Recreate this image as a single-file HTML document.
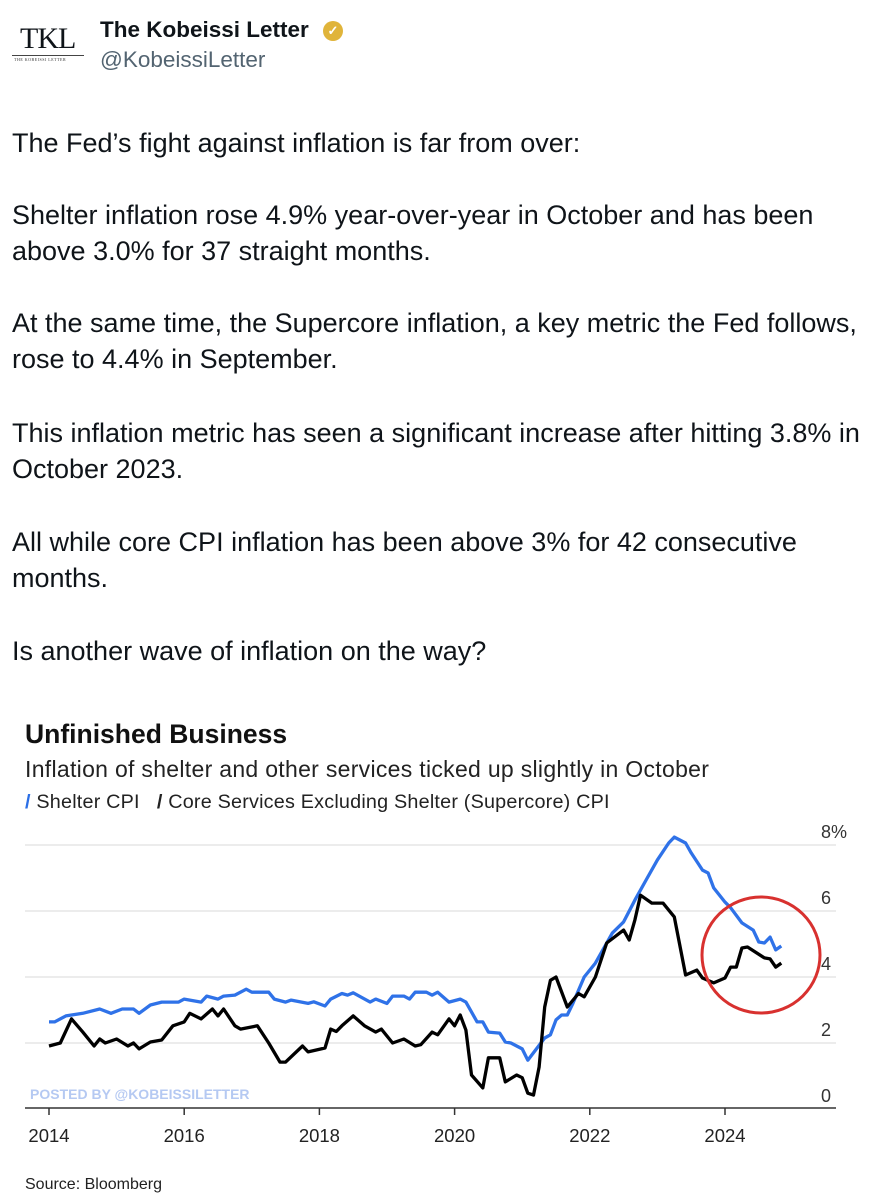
<!DOCTYPE html>
<html><head><meta charset="utf-8">
<style>
body{margin:0;width:887px;height:1200px;background:#fff;position:relative;overflow:hidden;font-family:"Liberation Sans",Arial,sans-serif;color:#0f1419}
.t{position:absolute;left:12px;font-size:27px;white-space:nowrap;line-height:30px}
</style></head><body>
<div style="position:absolute;left:12px;top:24px;width:74px;height:40px">
<div style="font-family:'Liberation Serif',serif;font-size:30px;letter-spacing:-1px;position:absolute;left:8px;top:0;line-height:30px">TKL</div>
<div style="position:absolute;left:0;top:31px;width:72px;border-top:1px solid #444"></div>
<div style="position:absolute;left:2px;top:33px;font-family:'Liberation Serif',serif;font-size:4px;letter-spacing:0.5px;color:#333">THE KOBEISSI LETTER</div>
</div>
<div style="position:absolute;left:100px;top:17px;font-size:22.5px;font-weight:bold">The Kobeissi Letter</div>
<div style="position:absolute;left:323px;top:21px;width:20px;height:20px;border-radius:50%;background:#e0b43a;color:#fff;font-size:13px;text-align:center;line-height:20px;font-weight:bold">✓</div>
<div style="position:absolute;left:100px;top:47px;font-size:22.5px;color:#536471">@KobeissiLetter</div>

<div>
<div class="t" style="top:128px">The Fed’s fight against inflation is far from over:</div>
<div class="t" style="top:200px">Shelter inflation rose 4.9% year-over-year in October and has been</div>
<div class="t" style="top:236px">above 3.0% for 37 straight months.</div>
<div class="t" style="top:308px">At the same time, the Supercore inflation, a key metric the Fed follows,</div>
<div class="t" style="top:344px">rose to 4.4% in September.</div>
<div class="t" style="top:418px">This inflation metric has seen a significant increase after hitting 3.8% in</div>
<div class="t" style="top:454px">October 2023.</div>
<div class="t" style="top:527px">All while core CPI inflation has been above 3% for 42 consecutive</div>
<div class="t" style="top:563px">months.</div>
<div class="t" style="top:636px">Is another wave of inflation on the way?</div>
</div>

<div style="position:absolute;left:25px;top:719px;font-size:26.5px;font-weight:bold;color:#111">Unfinished Business</div>
<div style="position:absolute;left:25px;top:756px;font-size:23px;letter-spacing:0.3px;color:#222">Inflation of shelter and other services ticked up slightly in October</div>
<div style="position:absolute;left:25px;top:791px;font-size:19.8px;letter-spacing:0.2px;color:#222;white-space:nowrap">
<span><span style="color:#2b6fe6;font-weight:bold">/</span> Shelter CPI</span>&nbsp;&nbsp;
<span><span style="font-weight:bold">/</span> Core Services Excluding Shelter (Supercore) CPI</span></div>

<svg id="chart" width="887" height="1200" style="position:absolute;left:0;top:0"></svg>

<div style="position:absolute;left:25px;top:1176px;font-size:16px;color:#222">Source: Bloomberg</div>

<script>
const shelterMonths=[0,1,3,6,9,11,13,15,16,18,20,23,24,27,28,30,31,33,35,36,39,40,42,43,46,47,49,50,52,53,54,57,58,60,61,63,64,65,67,68,69,71,73,74,76,77,78,80,81,82,84,85,88,89,90,91,92,93,95,97,99,100,102,104,106,108,110,111,113,114,116,117,118,120,121,123,125,126,127,128,129,130];
const shelterValues=[2.64,2.64,2.82,2.9,3.03,2.9,3.03,3.03,2.9,3.15,3.24,3.24,3.33,3.24,3.42,3.33,3.42,3.45,3.63,3.54,3.54,3.33,3.24,3.3,3.2,3.25,3.12,3.33,3.5,3.45,3.52,3.24,3.33,3.2,3.42,3.42,3.33,3.54,3.54,3.45,3.54,3.24,3.33,3.24,2.64,2.64,2.33,2.3,2.03,2.0,1.82,1.48,2.15,2.25,2.7,2.85,2.85,3.2,4.0,4.42,5.03,5.33,5.67,6.33,6.94,7.55,8.06,8.24,8.06,7.76,7.24,7.15,6.7,6.27,6.1,5.64,5.42,5.06,5.03,5.21,4.82,4.94];
const supercoreMonths=[0,2,4,6,8,9,10,12,14,15,16,18,20,22,24,25,27,29,30,31,33,34,37,39,41,42,45,46,49,50,51,52,54,56,58,59,61,63,65,66,68,69,71,72,73,74,75,77,78,80,81,83,84,85,86,87,88,89,90,92,94,95,97,99,102,103,104,105,107,109,111,113,115,116,118,120,121,122,123,124,127,128,129,130];
const supercoreValues=[1.91,2.0,2.73,2.33,1.91,2.12,2.0,2.12,1.91,2.0,1.82,2.03,2.09,2.52,2.64,2.9,2.73,3.03,2.82,3.03,2.52,2.42,2.52,2.0,1.42,1.42,1.91,1.73,1.85,2.42,2.35,2.52,2.82,2.52,2.33,2.42,2.0,2.12,1.91,1.95,2.33,2.25,2.73,2.52,2.85,2.39,1.03,0.64,1.55,1.55,0.82,1.03,0.95,0.48,0.42,1.27,3.09,3.9,4.0,3.09,3.5,3.4,4.0,5.03,5.42,5.12,5.73,6.48,6.24,6.24,5.82,4.06,4.21,3.97,3.82,3.97,4.3,4.3,4.88,4.91,4.58,4.55,4.3,4.42];
const yTicks=[0,2,4,6,8];
const yTickLabels=["0","2","4","6","8%"];
const xTickYears=[2014,2016,2018,2020,2022,2024];

const svg=document.getElementById('chart');
const NS='http://www.w3.org/2000/svg';
const xScale=m=>49+m/12*67.6;
const yScale=v=>1109-v*33;
function mk(tag,attrs){const e=document.createElementNS(NS,tag);for(const k in attrs)e.setAttribute(k,attrs[k]);svg.appendChild(e);return e;}

yTicks.forEach((v,i)=>{
  if(v>0){const g=mk('line',{x1:25,x2:836,y1:yScale(v),y2:yScale(v),stroke:'#e6e6e6','stroke-width':1.5});
  
  }
  const t=mk('text',{x:821,y:yScale(v)-7,'font-size':18,fill:'#333','font-family':'Liberation Sans, sans-serif'});
  t.textContent=yTickLabels[i];
  
  
});
const wm=mk('text',{x:30,y:1099,'font-size':14,'font-weight':'bold',fill:'#b5c9f2','font-family':'Liberation Sans, sans-serif'});
wm.textContent='POSTED BY @KOBEISSILETTER';


const ax=mk('line',{x1:25,x2:836,y1:1108,y2:1108,stroke:'#333','stroke-width':1.5});


xTickYears.forEach(y=>{
  const x=xScale((y-2014)*12);
  const tk=mk('line',{x1:x,x2:x,y1:1108,y2:1115,stroke:'#333','stroke-width':1.5});
  
  
  const t=mk('text',{x:x,y:1142,'font-size':18.5,fill:'#222','text-anchor':'middle','font-family':'Liberation Sans, sans-serif'});
  t.textContent=y;
  
  
});
function path(ms,vs,color,name){
  const d=ms.map((m,i)=>(i?'L':'M')+xScale(m).toFixed(1)+','+yScale(vs[i]).toFixed(1)).join('');
  const p=mk('path',{d:d,fill:'none',stroke:color,'stroke-width':3.3,'stroke-linejoin':'round'});
  
  
}
path(shelterMonths,shelterValues,'#2f72e8','shelter-cpi-line');
path(supercoreMonths,supercoreValues,'#000','supercore-cpi-line');
const c=mk('ellipse',{cx:761,cy:955,rx:59,ry:58,fill:'none',stroke:'#d8312f','stroke-width':3});


</script>
</body></html>
